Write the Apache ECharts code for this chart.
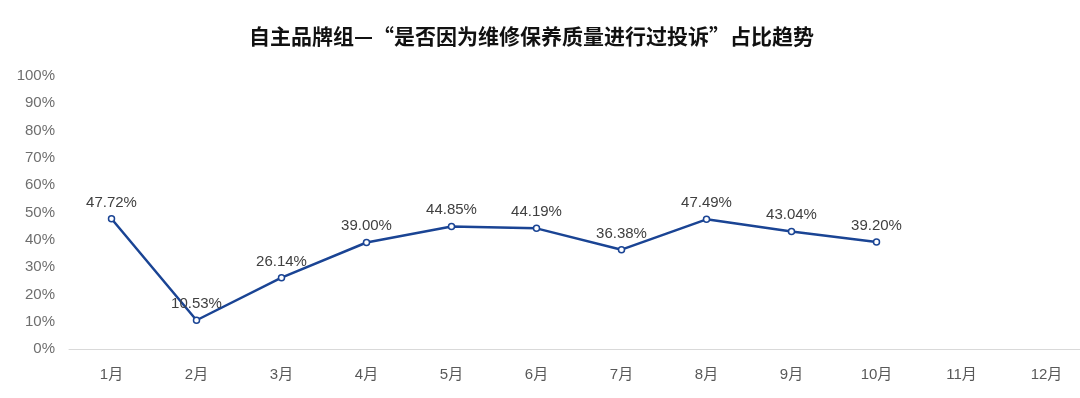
<!DOCTYPE html>
<html><head><meta charset="utf-8">
<script src="https://cdn.jsdelivr.net/npm/echarts@6/dist/echarts.min.js"></script>
<style>html,body{margin:0;padding:0;background:#fff;overflow:hidden}#c{width:1090px;height:398px}</style>
</head><body><div id="c"></div>
<script>
const categories = ['1月','2月','3月','4月','5月','6月','7月','8月','9月','10月','11月','12月'];
const values = [47.72, 10.53, 26.14, 39.00, 44.85, 44.19, 36.38, 47.49, 43.04, 39.20, null, null];
const titleText = '自主品牌组—“是否因为维修保养质量进行过投诉”占比趋势';

const chart = echarts.init(document.getElementById('c'));
chart.setOption({
  backgroundColor: '#fff',
  animation: false,
  title: {
    text: titleText, left: 244, top: 21,
    textStyle: {fontFamily: 'Noto Sans CJK SC', fontSize: 21, fontWeight: 'bold', color: '#111'}
  },
  grid: {left: 69, right: 1, top: 76, bottom: 49},
  xAxis: {
    type: 'category', data: categories, boundaryGap: true,
    axisLine: {lineStyle: {color: '#d9d9d9', width: 1}},
    axisTick: {show: false},
    axisLabel: {color: '#595959', fontSize: 15, margin: 18, fontFamily: 'Liberation Sans, Noto Sans CJK SC'}
  },
  yAxis: {
    type: 'value', min: 0, max: 100, interval: 10,
    splitLine: {show: false},
    axisLine: {show: false}, axisTick: {show: false},
    axisLabel: {formatter: '{value}%', color: '#6e6e6e', fontSize: 15, margin: 14, fontFamily: 'Liberation Sans'}
  },
  series: [{
    type: 'line', data: values,
    lineStyle: {color: '#1a4494', width: 2.5},
    itemStyle: {color: '#fff', borderColor: '#1a4494', borderWidth: 1.5},
    symbol: 'circle', symbolSize: 6,
    label: {show: true, position: 'top', distance: 5, formatter: p => p.value.toFixed(2) + '%',
      color: '#404040', fontSize: 15, fontFamily: 'Liberation Sans'}
  }]
});
</script></body></html>
